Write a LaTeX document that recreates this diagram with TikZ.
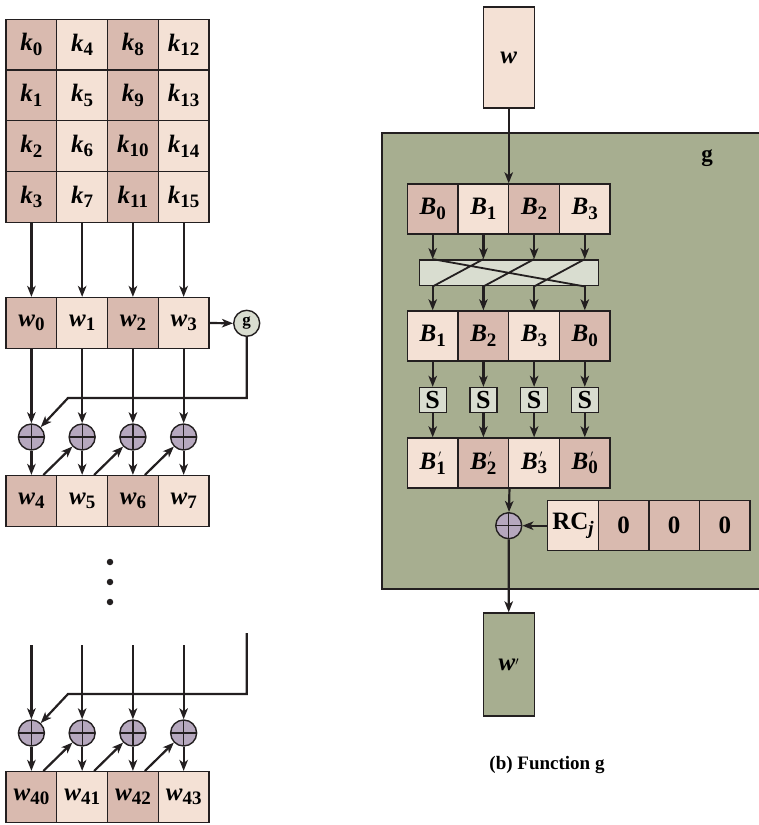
\documentclass[tikz,border=0pt]{standalone}
\usepackage{fontspec}
\setmainfont{Liberation Serif}
\usetikzlibrary{arrows.meta,calc}
\definecolor{dk}{HTML}{D9BAAF}
\definecolor{lt}{HTML}{F4E1D5}
\definecolor{gr}{HTML}{A7AE90}
\definecolor{pg}{HTML}{D9DDD0}
\definecolor{xr}{HTML}{B6A8BE}
\definecolor{inkc}{HTML}{231F20}
\newcommand\bi[1]{\textbf{\textit{#1}}}
\newcommand\sbs[1]{\raisebox{-4.5pt}{\fontsize{19}{19}\selectfont\textbf{#1}}}
\newcommand\prm{\rlap{\kern2pt\raisebox{12pt}{\fontsize{10}{10}\selectfont$\prime$}}}
\begin{document}
\begin{tikzpicture}[x=1pt,y=-1pt,
  cell/.style={draw=inkc, line width=1.4pt, minimum width=50.75pt, minimum height=50.75pt, inner sep=0pt, font=\fontsize{25}{25}\selectfont},
  dcell/.style={cell, fill=dk},
  lcell/.style={cell, fill=lt},
  xorn/.style={circle, draw=inkc, line width=1.4pt, fill=xr, minimum size=26pt, inner sep=0pt,
    path picture={\draw[inkc, line width=1.2pt] (path picture bounding box.north) -- (path picture bounding box.south) (path picture bounding box.west) -- (path picture bounding box.east);}},
  arr/.style={draw=inkc, line width=2.2pt, -{Stealth[length=11pt,width=8.5pt,inset=3pt]}},
  sbox/.style={draw=inkc, line width=1.4pt, fill=pg, minimum width=27pt, minimum height=25pt, inner sep=0pt, font=\bfseries\fontsize{26}{26}\selectfont},
  dotn/.style={circle, fill=inkc, inner sep=0pt, minimum size=6.5pt}
]
\useasboundingbox (0,0) rectangle (759,825);

% ---------------- left: key expansion ----------------
\foreach \c/\st in {0/dcell,1/lcell,2/dcell,3/lcell}{
  \foreach \r in {0,...,3}{
    \pgfmathtruncatemacro\idx{4*\c+\r}
    \node[\st] (k\idx) at ({31.4+50.75*\c},{44.6+50.75*\r}) {\bi{k}\sbs{\idx}};
  }
  \node[\st] (w\c) at ({31.4+50.75*\c},323) {\bi{w}\sbs{\c}};
  \pgfmathtruncatemacro\nb{4+\c}
  \node[\st] (wa\c) at ({31.4+50.75*\c},501) {\bi{w}\sbs{\nb}};
  \pgfmathtruncatemacro\nc{40+\c}
  \node[\st] (wb\c) at ({31.4+50.75*\c},797) {\bi{w}\sbs{\nc}};
  \node[xorn] (x\c) at ({31.4+50.75*\c},437) {};
  \node[xorn] (xb\c) at ({31.4+50.75*\c},733) {};
  \coordinate (t\c) at ({31.4+50.75*\c},645);
}
\foreach \c [evaluate=\c as \r using int(4*\c+3)] in {0,...,3}{
  \draw[arr] (k\r.south) -- (w\c.north);
  \draw[arr] (w\c.south) -- (x\c);
  \draw[arr] (x\c) -- (wa\c.north);
  \draw[arr] (t\c) -- (xb\c);
  \draw[arr] (xb\c) -- (wb\c.north);
}
\foreach \c [evaluate=\c as \n using int(\c+1)] in {0,1,2}{
  \draw[arr] ($(wa\c.north)+(12,0)$) -- (x\n);
  \draw[arr] ($(wb\c.north)+(12,0)$) -- (xb\n);
}
\node[circle, draw=inkc, line width=1.4pt, fill=pg, minimum size=26pt, inner sep=0pt, font=\bfseries\fontsize{17}{17}\selectfont] (g) at (246.7,323.3) {g};
\draw[arr] (w3.east) -- (g.west);
\coordinate (ga) at (246.7,398);
\coordinate (gb) at (68,398);
\draw[arr] (g.south) -- (ga) -- (gb) -- (x0);
\coordinate (ha0) at (246.7,633);
\coordinate (ha) at (246.7,694);
\coordinate (hb) at (68,694);
\draw[arr] (ha0) -- (ha) -- (hb) -- (xb0);
\node[dotn] (d1) at (110,562) {};
\node[dotn] (d2) at (110,582) {};
\node[dotn] (d3) at (110,602) {};

% ---------------- right: function g ----------------
\node[cell, fill=lt, minimum width=51pt, minimum height=101pt] (wg) at (508.7,57.5) {\bi{w}};
\draw[draw=inkc, line width=1.6pt, fill=gr] (382,133) rectangle (768,589);
\node[font=\bfseries\fontsize{23}{23}\selectfont] (glab) at (707,158) {g};

\foreach \c/\st/\n in {0/dcell/0,1/lcell/1,2/dcell/2,3/lcell/3}{
  \node[\st, minimum width=50.7pt, minimum height=50pt] (ba\c) at ({432.7+50.7*\c},209) {\bi{B}\sbs{\n}};
}
\foreach \c/\st/\n in {0/lcell/1,1/dcell/2,2/lcell/3,3/dcell/0}{
  \node[\st, minimum width=50.7pt, minimum height=50pt] (bb\c) at ({432.7+50.7*\c},336) {\bi{B}\sbs{\n}};
  \node[sbox] (s\c) at ({432.7+50.7*\c},400) {S};
  \node[\st, minimum width=50.7pt, minimum height=50pt] (bc\c) at ({432.7+50.7*\c},463) {\bi{B}\prm\sbs{\n}};
}
\draw[arr] (wg.south) -- (wg.south |- ba0.north);

\node[draw=inkc, line width=1.6pt, fill=pg, minimum width=179pt, minimum height=25.7pt, inner sep=0pt] (perm) at (508.8,272.8) {};
\foreach \c in {0,...,3}{
  \draw[arr] (ba\c.south) -- (ba\c.south |- perm.north);
  \draw[arr] (bb\c.north |- perm.south) -- (bb\c.north);
  \draw[arr] (bb\c.south) -- (s\c.north);
  \draw[arr] (s\c.south) -- (bc\c.north);
}
\draw[inkc, line width=1.8pt] (ba0.south |- perm.north) -- (ba3.south |- perm.south)
  (ba1.south |- perm.north) -- (ba0.south |- perm.south)
  (ba2.south |- perm.north) -- (ba1.south |- perm.south)
  (ba3.south |- perm.north) -- (ba2.south |- perm.south);

\node[xorn] (xg) at (508.75,525.7) {};
\node[lcell, minimum width=50.6pt, minimum height=50pt] (rc0) at (573,525.7) {\textbf{RC}\raisebox{-4.5pt}{\fontsize{19}{19}\selectfont\bi{j}}};
\foreach \c in {1,2,3}{
  \node[dcell, minimum width=50.6pt, minimum height=50pt, font=\bfseries\fontsize{25}{25}\selectfont] (rc\c) at ({573+50.6*\c},525.7) {0};
}
\draw[arr] (bc1.south east) -- (xg);
\draw[arr] (rc0.west) -- (xg);
\node[cell, fill=gr, minimum width=51pt, minimum height=103pt] (wp) at (508.7,664.5) {\bi{w}\raisebox{5pt}{\fontsize{13}{13}\selectfont$\prime$}};
\draw[arr] (xg) -- (wp.north);
\node[font=\bfseries\fontsize{19}{19}\selectfont] (cap) at (547,765) {(b) Function g};
\end{tikzpicture}
\end{document}
